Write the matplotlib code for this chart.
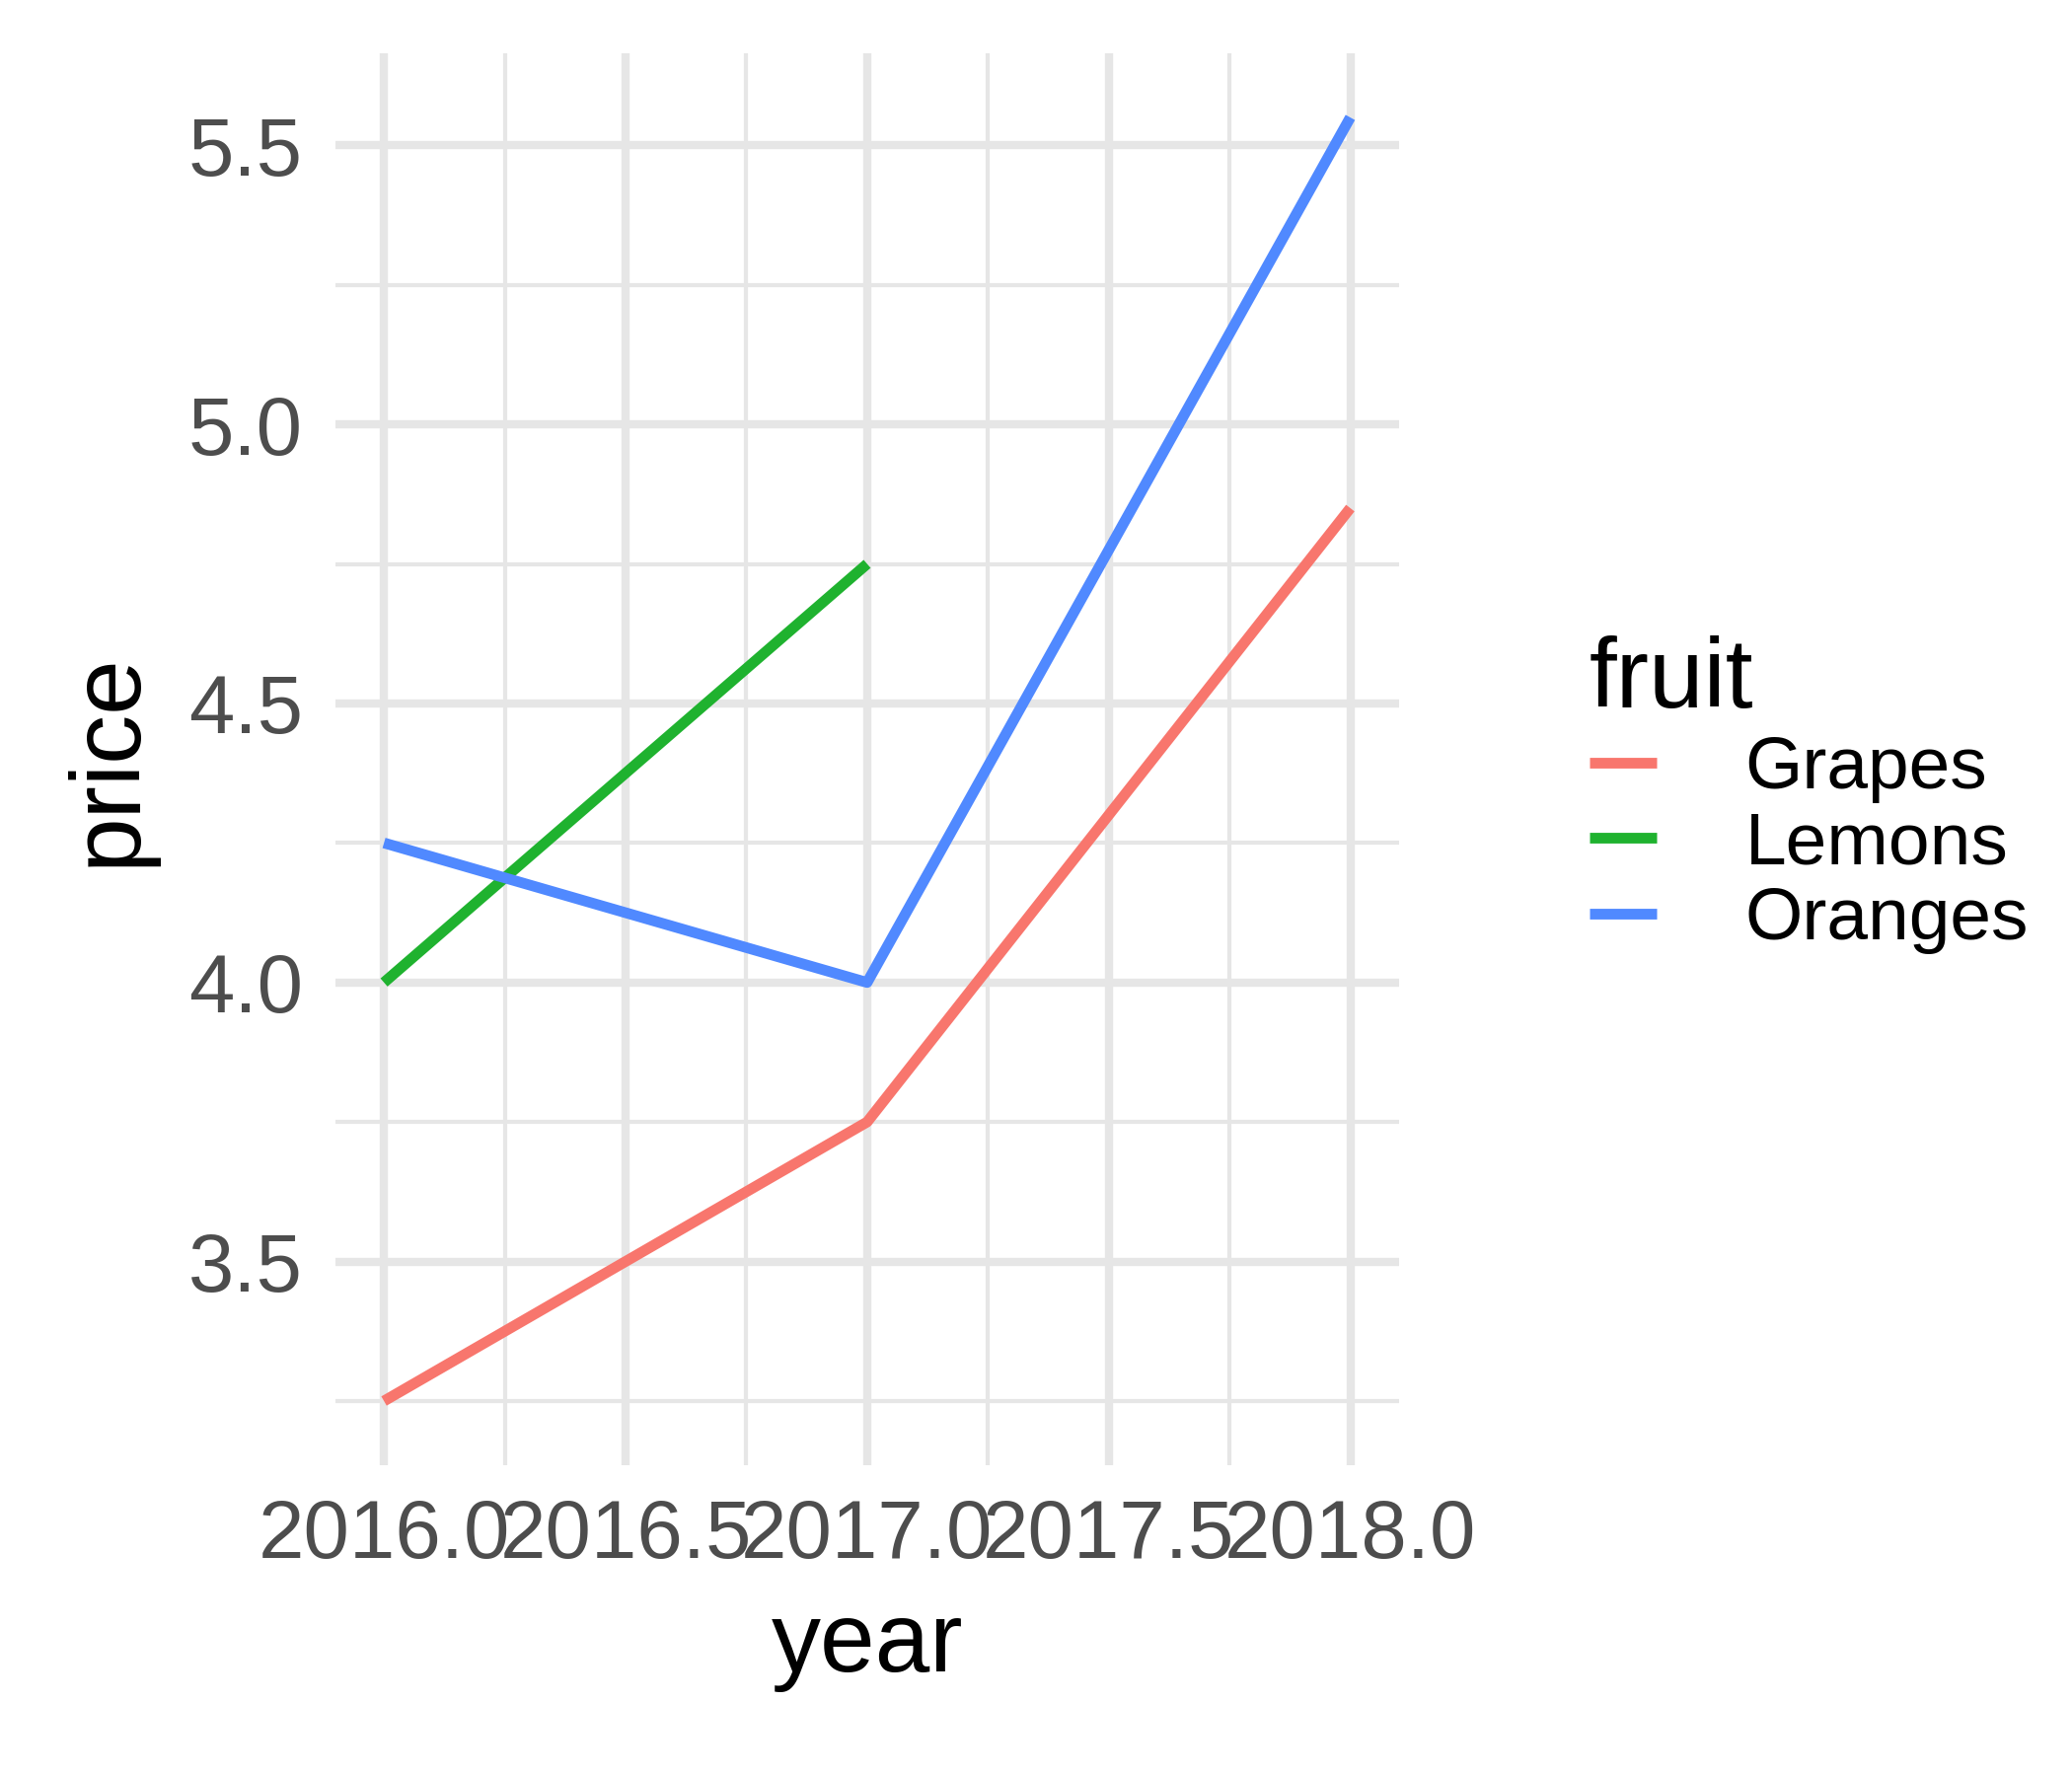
import matplotlib
matplotlib.use("Agg")
import matplotlib.pyplot as plt
from matplotlib.ticker import MultipleLocator, FormatStrFormatter

plt.rcParams['font.family'] = ['Liberation Sans', 'DejaVu Sans']

fruits = ["Grapes", "Lemons", "Oranges"]
colors = ["#F8766D", "#1FB22F", "#5089FF"]
years = {
    "Grapes": [2016, 2017, 2018],
    "Lemons": [2016, 2017],
    "Oranges": [2016, 2017, 2018],
}
prices = {
    "Grapes": [3.25, 3.75, 4.85],
    "Lemons": [4.0, 4.75],
    "Oranges": [4.25, 4.0, 5.55],
}

fig = plt.figure(figsize=(7, 6), dpi=300)
ax = fig.add_axes([0.162, 0.175, 0.513, 0.795])

for f, c in zip(fruits, colors):
    ax.plot(years[f], prices[f], color=c, lw=2.6, label=f, solid_capstyle='butt')

ax.set_xlim(2015.9, 2018.1)
ax.set_ylim(3.135, 5.665)
ax.xaxis.set_major_locator(MultipleLocator(0.5))
ax.xaxis.set_minor_locator(MultipleLocator(0.25))
ax.yaxis.set_major_locator(MultipleLocator(0.5))
ax.yaxis.set_minor_locator(MultipleLocator(0.25))
ax.xaxis.set_major_formatter(FormatStrFormatter('%.1f'))
ax.yaxis.set_major_formatter(FormatStrFormatter('%.1f'))

ax.grid(which='major', color='#E6E6E6', lw=2.0)
ax.grid(which='minor', color='#E6E6E6', lw=1.0)
ax.set_axisbelow(True)
for s in ax.spines.values():
    s.set_visible(False)
ax.tick_params(which='both', length=0, labelsize=20, colors='#4D4D4D', pad=8)
ax.set_xlabel("year", fontsize=24, labelpad=6)
ax.set_ylabel("price", fontsize=24, labelpad=8)

leg = fig.legend(loc='upper left', bbox_to_anchor=(0.735, 0.68), frameon=False,
                 title="fruit", fontsize=18, title_fontsize=24,
                 handlelength=0.9, handletextpad=1.2, labelspacing=0.1)
leg._legend_box.align = "left"

fig.savefig("out.png", dpi=300)
